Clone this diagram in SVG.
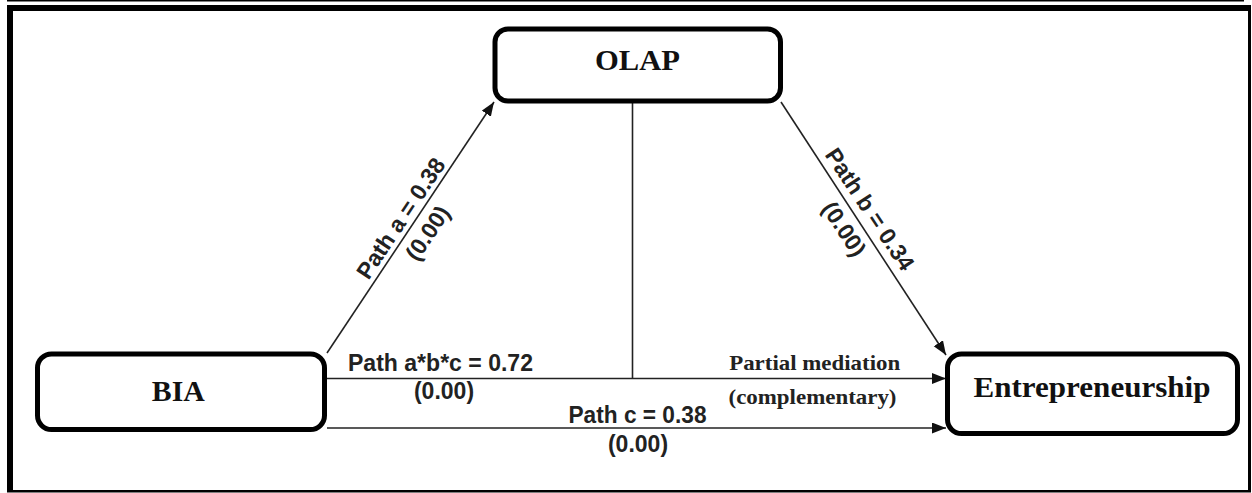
<svg xmlns="http://www.w3.org/2000/svg" width="1252" height="493" viewBox="0 0 1252 493">
<style>
.box{fill:#fff;stroke:#000;stroke-width:5}
.node{font-family:"Liberation Serif","Times New Roman",serif;font-weight:bold;font-size:30px;fill:#111;text-anchor:middle}
.lab{font-family:"Liberation Sans",Arial,sans-serif;font-weight:bold;font-size:23px;fill:#222}
.slab{font-family:"Liberation Serif","Times New Roman",serif;font-weight:bold;font-size:22px;fill:#222;text-anchor:middle}
.conn{stroke:#222;stroke-width:1.6;fill:none}
.mid{text-anchor:middle}
</style>
<defs>
<marker id="arr" markerUnits="userSpaceOnUse" markerWidth="16" markerHeight="12" refX="14" refY="5.5" orient="auto">
<path d="M0,0 L14,5.5 L0,11 z" fill="#111"/>
</marker>
</defs>
<rect x="0" y="0" width="1252" height="493" fill="#fff"/>
<g id="frame" stroke="#000" fill="none">
<line x1="7" y1="0.8" x2="1244" y2="0.8" stroke-width="1.6"/>
<line x1="7" y1="8" x2="1251" y2="8" stroke-width="6"/>
<line x1="10" y1="5" x2="10" y2="492" stroke-width="6"/>
<line x1="1249.5" y1="5" x2="1249.5" y2="492" stroke-width="3"/>
<line x1="7" y1="491.3" x2="1251" y2="491.3" stroke-width="2.5"/>
</g>
<g id="connectors">
<line class="conn" x1="327" y1="353" x2="494" y2="102" marker-end="url(#arr)"/>
<line class="conn" x1="781" y1="102" x2="946" y2="355" marker-end="url(#arr)"/>
<line class="conn" x1="632.5" y1="103" x2="632.5" y2="378.5"/>
<line class="conn" x1="327" y1="378.5" x2="946" y2="378.5" marker-end="url(#arr)"/>
<line class="conn" x1="327" y1="428" x2="946" y2="428" marker-end="url(#arr)"/>
</g>
<g id="labels">
<text class="lab mid" transform="translate(407.4,222.7) rotate(-56.2)">Path a = 0.38</text>
<text class="lab mid" transform="translate(434.2,237.5) rotate(-56.2)">(0.00)</text>
<text class="lab mid" transform="translate(863.3,213.6) rotate(56.5)">Path b = 0.34</text>
<text class="lab mid" transform="translate(837.5,233.3) rotate(56.5)">(0.00)</text>
<text class="lab" x="348" y="371" textLength="185" lengthAdjust="spacingAndGlyphs">Path a*b*c = 0.72</text>
<text class="lab mid" x="444" y="398.5">(0.00)</text>
<text class="lab mid" x="637.5" y="423" textLength="138" lengthAdjust="spacingAndGlyphs">Path c = 0.38</text>
<text class="lab mid" x="638" y="452">(0.00)</text>
<text class="slab" x="814.7" y="370" textLength="171" lengthAdjust="spacingAndGlyphs">Partial mediation</text>
<text class="slab" x="812.5" y="404" textLength="168" lengthAdjust="spacingAndGlyphs">(complementary)</text>
</g>
<g id="node-olap">
<rect class="box" x="495" y="29" width="285.5" height="72" rx="13"/>
<text class="node" x="637.5" y="70" textLength="85" lengthAdjust="spacingAndGlyphs">OLAP</text>
</g>
<g id="node-bia">
<rect class="box" x="37.5" y="354" width="287" height="75.5" rx="14"/>
<text class="node" x="178.3" y="401" textLength="53" lengthAdjust="spacingAndGlyphs">BIA</text>
</g>
<g id="node-entrepreneurship">
<rect class="box" x="947.5" y="354" width="290" height="79.5" rx="14"/>
<text class="node" x="1092" y="397" textLength="237" lengthAdjust="spacingAndGlyphs">Entrepreneurship</text>
</g>
</svg>
